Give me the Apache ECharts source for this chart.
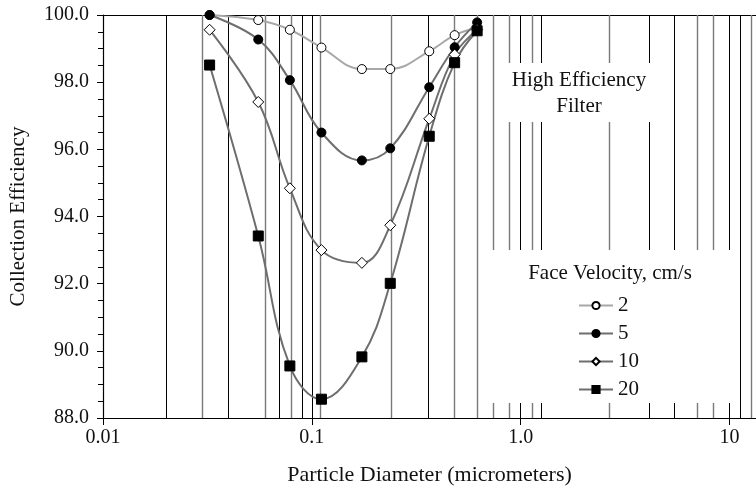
<!DOCTYPE html>
<html>
<head>
<meta charset="utf-8">
<script src="https://cdn.jsdelivr.net/npm/echarts@6/dist/echarts.min.js"></script>
<style>
  html, body { margin: 0; padding: 0; background: #fff; }
  #main { width: 756px; height: 491px; }
</style>
</head>
<body>
<div id="main"></div>
<script>
var diameters = [0.0324, 0.0554, 0.0785, 0.1112, 0.1737, 0.2375, 0.365, 0.483, 0.619];
var eff2 = [100.0, 99.85, 99.56, 99.03, 98.39, 98.39, 98.92, 99.40, 99.62];
var eff5 = [100.0, 99.27, 98.06, 96.50, 95.67, 96.03, 97.85, 99.04, 99.78];
var eff10 = [99.56, 97.41, 94.84, 93.00, 92.62, 93.74, 96.91, 98.82, 99.56];
var eff20 = [98.51, 93.42, 89.55, 88.56, 89.82, 92.01, 96.39, 98.58, 99.53];

var gridDark = [0.0211, 0.0429, 0.0659, 0.0916, 0.1, 0.365, 1.0, 1.259, 4.11, 5.44, 10, 11.27];
var gridLight = [0.0324, 0.0554, 0.0785, 0.1112, 0.2375, 0.483, 0.619, 0.744, 0.881, 1.137, 2.675, 7.02, 8.34, 12.7];

var xTickValues = [0.01, 0.1, 1, 10];
var xTickLabels = ['0.01', '0.1', '1.0', '10'];

var FONT = 'Liberation Serif';

function pairs(ys) {
    return diameters.map(function (d, i) { return [d, ys[i]]; });
}

function gridSeries(list, color, width) {
    return {
        type: 'line',
        data: [[0.01, 88]],
        showSymbol: false,
        silent: true,
        z: 1,
        lineStyle: { opacity: 0 },
        markLine: {
            symbol: 'none',
            silent: true,
            animation: false,
            label: { show: false },
            lineStyle: { color: color, width: width, type: 'solid' },
            data: list.map(function (v) { return { xAxis: v }; })
        }
    };
}

function dataSeries(name, ys, symbol, size, fill, lineColor) {
    return {
        name: name,
        type: 'line',
        data: pairs(ys),
        smooth: 0.4,
        symbol: symbol,
        symbolSize: size,
        z: 5,
        itemStyle: { color: fill, borderColor: '#000', borderWidth: 1, opacity: 1 },
        lineStyle: { color: lineColor, width: 2 }
    };
}

var myChart = echarts.init(document.getElementById('main'));

var option = {
    animation: false,
    backgroundColor: '#fff',
    textStyle: { fontFamily: FONT },
    grid: { left: 97, right: 0, top: 15, bottom: 64 },
    legend: {
        data: ['2', '5', '10', '20'],
        orient: 'vertical',
        left: 578,
        top: 295,
        padding: 0,
        itemGap: 7,
        itemWidth: 34,
        itemHeight: 9,
        zlevel: 2,
        textStyle: { fontFamily: FONT, fontSize: 21, color: '#111' }
    },
    xAxis: [{
        type: 'log',
        min: 0.01,
        max: 13.4,
        name: 'Particle Diameter (micrometers)',
        nameLocation: 'middle',
        nameGap: 46,
        nameTextStyle: { fontFamily: FONT, fontSize: 22, color: '#111' },
        axisLine: { lineStyle: { color: '#000', width: 1.2 } },
        axisTick: { show: true, length: 7, inside: false, lineStyle: { color: '#000' } },
        axisLabel: {
            fontFamily: FONT, fontSize: 20, color: '#111', margin: 10,
            showMaxLabel: false,
            formatter: function (v) {
                for (var i = 0; i < xTickValues.length; i++) {
                    if (Math.abs(v - xTickValues[i]) / xTickValues[i] < 1e-6) return xTickLabels[i];
                }
                return '';
            }
        },
        splitLine: { show: false },
        minorTick: { show: false }
    }, {
        type: 'log',
        min: 0.01,
        max: 13.4,
        position: 'top',
        axisLine: { lineStyle: { color: '#000', width: 1.2 } },
        axisTick: { show: false },
        axisLabel: { show: false },
        splitLine: { show: false }
    }],
    yAxis: {
        type: 'value',
        min: 88,
        max: 100,
        interval: 2,
        name: 'Collection Efficiency',
        nameLocation: 'middle',
        nameGap: 74,
        nameTextStyle: { fontFamily: FONT, fontSize: 21, color: '#111' },
        axisLine: { show: true, lineStyle: { color: '#000', width: 1.2 } },
        axisTick: { show: true, length: 6, lineStyle: { color: '#000' } },
        minorTick: { show: true, splitNumber: 4, length: 5, lineStyle: { color: '#000' } },
        axisLabel: {
            fontFamily: FONT, fontSize: 20, color: '#111', margin: 14,
            formatter: function (v) { return v.toFixed(1); }
        },
        splitLine: { show: false }
    },
    graphic: [
        { type: 'rect', zlevel: 1, shape: { x: 495, y: 63, width: 170, height: 59 }, style: { fill: '#fff' } },
        { type: 'text', zlevel: 1, z: 1, x: 579, y: 80, style: { text: 'High Efficiency', font: '21px "Liberation Serif"', fill: '#111', align: 'center', verticalAlign: 'middle' } },
        { type: 'text', zlevel: 1, z: 1, x: 579, y: 106, style: { text: 'Filter', font: '21px "Liberation Serif"', fill: '#111', align: 'center', verticalAlign: 'middle' } },
        { type: 'rect', zlevel: 1, shape: { x: 479, y: 250, width: 256, height: 153 }, style: { fill: '#fff' } },
        { type: 'text', zlevel: 1, z: 1, x: 610, y: 273, style: { text: 'Face Velocity, cm/s', font: '21px "Liberation Serif"', fill: '#111', align: 'center', verticalAlign: 'middle' } }
    ],
    series: [
        gridSeries(gridDark, '#000', 1),
        gridSeries(gridLight, '#7a7a7a', 1.4),
        dataSeries('2', eff2, 'circle', 9, '#fff', '#a8a8a8'),
        dataSeries('5', eff5, 'circle', 9, '#000', '#6e6e6e'),
        dataSeries('10', eff10, 'diamond', 11, '#fff', '#6e6e6e'),
        dataSeries('20', eff20, 'rect', 10, '#000', '#6e6e6e')
    ]
};

myChart.setOption(option);
</script>
</body>
</html>
